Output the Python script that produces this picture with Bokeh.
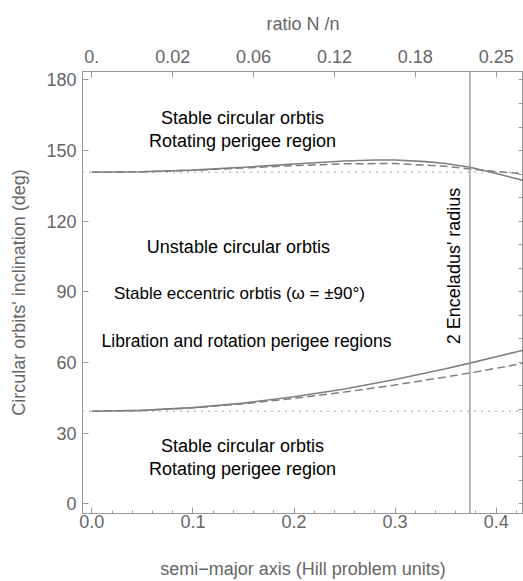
import numpy as np
from bokeh.plotting import figure
from bokeh.models import (Range1d, LinearAxis, SingleIntervalTicker, FixedTicker,
                          PrintfTickFormatter, Label, Span)
from bokeh.embed import file_html
from bokeh.resources import INLINE

# ---- data ----
a_solid_up = [0.0, 0.05, 0.10, 0.15, 0.20, 0.25, 0.28, 0.30, 0.33, 0.35, 0.374, 0.40, 0.427]
inc_solid_up = [140.77, 141.0, 141.7, 142.9, 144.3, 145.6, 146.0, 146.0, 145.3, 144.5, 142.9, 140.3, 137.3]
a_dash_up = [0.0, 0.05, 0.10, 0.15, 0.20, 0.25, 0.30, 0.35, 0.374, 0.40, 0.427]
inc_dash_up = [140.77, 141.0, 141.6, 142.6, 143.6, 144.4, 144.5, 143.3, 142.2, 141.1, 140.1]
a_solid_low = [0.0, 0.05, 0.10, 0.15, 0.20, 0.25, 0.30, 0.35, 0.374, 0.40, 0.427]
inc_solid_low = [39.23, 39.6, 40.8, 42.7, 45.4, 48.7, 52.7, 57.3, 59.7, 62.4, 65.2]
a_dash_low = [0.0, 0.05, 0.10, 0.15, 0.20, 0.25, 0.30, 0.35, 0.374, 0.40, 0.427]
inc_dash_low = [39.23, 39.6, 40.7, 42.4, 44.7, 47.4, 50.4, 53.8, 55.5, 57.5, 59.7]
a_flat = [-0.0092, 0.427]
inc_flat_up = [140.77, 140.77]
inc_flat_low = [39.23, 39.23]
enceladus_a = 0.374

top_tick_pos = [0.0, 0.08, 0.16, 0.24, 0.32, 0.40]
top_tick_labels = ["0.", "0.02", "0.06", "0.12", "0.18", "0.25"]
right_minor_ticks = [0, 10, 20, 30, 40, 50, 60, 70, 80, 90, 100, 110, 120, 130, 140, 150, 160, 170, 180]

AX = "#999999"
TX = "#666666"
CUR = "#808080"
FONT = "Liberation Sans"

p = figure(width=523, height=581, x_range=Range1d(-0.0092, 0.427), y_range=Range1d(-4.2, 183.6),
           output_backend="svg", toolbar_location=None, x_axis_location=None, y_axis_location=None,
           min_border_left=82, min_border_right=0, min_border_top=71, min_border_bottom=67)
p.grid.visible = False
p.outline_line_color = AX
p.background_fill_color = "white"
p.border_fill_color = "white"

def style(ax):
    ax.axis_line_color = AX
    ax.major_tick_line_color = AX
    ax.minor_tick_line_color = AX
    ax.major_tick_out = 0
    ax.minor_tick_out = 0
    ax.major_label_text_color = TX
    ax.major_label_text_font = FONT
    ax.major_label_text_font_size = "18px"
    ax.axis_label_text_color = TX
    ax.axis_label_text_font = FONT
    ax.axis_label_text_font_size = "18px"
    ax.axis_label_text_font_style = "normal"

xb = LinearAxis(ticker=SingleIntervalTicker(interval=0.1, num_minor_ticks=5),
                formatter=PrintfTickFormatter(format="%.1f"),
                axis_label="semi\u2212major axis (Hill problem units)")
style(xb)
xb.major_tick_in = 6
xb.minor_tick_in = 3
xb.major_label_standoff = 1
xb.axis_label_standoff = 28
p.add_layout(xb, "below")

xt = LinearAxis(ticker=FixedTicker(ticks=top_tick_pos, minor_ticks=[]),
                major_label_overrides={t: l for t, l in zip(top_tick_pos, top_tick_labels)},
                axis_label="ratio N /n")
style(xt)
xt.major_tick_in = 6
xt.minor_tick_in = 0
xt.major_label_standoff = 9
xt.axis_label_standoff = 13
p.add_layout(xt, "above")

yl = LinearAxis(ticker=SingleIntervalTicker(interval=30, num_minor_ticks=0),
                axis_label="Circular orbits' inclination (deg)")
style(yl)
yl.major_tick_in = 6
yl.major_label_standoff = 6
yl.axis_label_standoff = 14
p.add_layout(yl, "left")

yr = LinearAxis(ticker=FixedTicker(ticks=[], minor_ticks=right_minor_ticks))
style(yr)
yr.minor_tick_in = 5
yr.major_label_standoff = 0
p.add_layout(yr, "right")

# curves
p.line(a_flat, inc_flat_up, line_color=CUR, line_width=1.5, line_dash="1 6")
p.line(a_flat, inc_flat_low, line_color=CUR, line_width=1.5, line_dash="1 6")
p.line(a_dash_up, inc_dash_up, line_color=CUR, line_width=1.5, line_dash="8 4")
p.line(a_dash_low, inc_dash_low, line_color=CUR, line_width=1.5, line_dash="8 4")
p.line(a_solid_up, inc_solid_up, line_color=CUR, line_width=1.6)
p.line(a_solid_low, inc_solid_low, line_color=CUR, line_width=1.6)
p.add_layout(Span(location=enceladus_a, dimension="height", line_color="#999999", line_width=1.4))

def lab(x, y, t, **kw):
    d = dict(text_font=FONT, text_font_size="18px", text_color="black",
             text_align="center", text_baseline="middle")
    d.update(kw)
    p.add_layout(Label(x=x, y=y, text=t, **d))

lab(0.149, 164.0, "Stable circular orbtis")
lab(0.149, 154.2, "Rotating perigee region")
lab(0.145, 109.0, "Unstable circular orbtis")
lab(0.146, 89.3, "Stable eccentric orbtis (\u03c9 = \u00b190\u00b0)", text_font_size="17px")
lab(0.153, 69.0, "Libration and rotation perigee regions", text_font_size="17.5px")
lab(0.149, 24.5, "Stable circular orbtis")
lab(0.149, 14.8, "Rotating perigee region")
lab(0.358, 101.0, "2 Enceladus' radius", angle=np.pi / 2)

open("out.html", "w").write(file_html(p, INLINE))
